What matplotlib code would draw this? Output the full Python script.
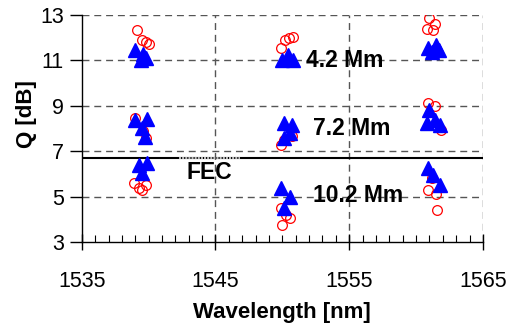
import matplotlib
matplotlib.use("Agg")
import matplotlib.pyplot as plt
from matplotlib.ticker import MultipleLocator

plt.rcParams['font.family'] = ['Liberation Sans', 'DejaVu Sans']

# Q values, grouped by distance
tri_x_42 = [1539.0, 1539.6, 1539.4, 1539.8, 1550.0, 1550.4, 1550.8, 1560.9, 1561.5, 1561.2, 1561.7]
tri_y_42 = [11.46, 11.28, 11.02, 11.1, 11.0, 11.24, 11.0, 11.55, 11.68, 11.37, 11.46]
cir_x_42 = [1539.1, 1539.5, 1539.8, 1540.0, 1549.9, 1550.2, 1550.5, 1550.8, 1561.0, 1560.8, 1561.4, 1561.3]
cir_y_42 = [12.34, 11.9, 11.8, 11.72, 11.55, 11.9, 12.0, 12.03, 12.85, 12.4, 12.6, 12.34]

tri_x_72 = [1539.0, 1539.9, 1539.5, 1539.7, 1550.1, 1550.7, 1550.1, 1550.6, 1561.0, 1560.8, 1561.4, 1561.8]
tri_y_72 = [8.37, 8.4, 8.0, 7.63, 8.24, 8.15, 7.58, 7.8, 8.8, 8.24, 8.37, 8.15]
cir_x_72 = [1539.0, 1539.6, 1539.8, 1549.9, 1550.1, 1550.7, 1560.9, 1561.4, 1561.9]
cir_y_72 = [8.46, 7.9, 7.58, 7.27, 7.5, 7.65, 9.12, 9.0, 7.93]

tri_x_102 = [1539.3, 1539.9, 1539.5, 1549.9, 1550.6, 1550.1, 1560.9, 1561.3, 1561.8]
tri_y_102 = [6.39, 6.48, 6.04, 5.38, 4.98, 4.5, 6.26, 5.95, 5.5]
cir_x_102 = [1538.9, 1539.3, 1539.8, 1539.5, 1550.3, 1550.6, 1550.0, 1549.9, 1560.9, 1561.5, 1561.6, 1561.2]
cir_y_102 = [5.6, 5.38, 5.51, 5.3, 4.19, 4.06, 3.75, 4.5, 5.3, 5.1, 4.4, 5.8]

fec_level = 6.7

fig = plt.figure(figsize=(5.11, 3.24), dpi=100)
ax = fig.add_axes([0.160, 0.253, 0.785, 0.701])

grid_style = dict(color='#555555', linestyle=(0, (5, 3.5)), linewidth=1.0, zorder=1)
for yv in [5, 7, 9, 11, 13]:
    ax.axhline(yv, **grid_style)
for xv in [1545, 1555, 1565]:
    ax.axvline(xv, **grid_style)

ax.axhline(fec_level, color='black', linewidth=1.5, zorder=2)
ax.plot([1542.3, 1546.8], [fec_level, fec_level], color='#bbbbbb', linewidth=1.5,
        linestyle=(0, (1, 0.5)), zorder=3)

for tx, ty, cx, cy in [(tri_x_42, tri_y_42, cir_x_42, cir_y_42),
                       (tri_x_72, tri_y_72, cir_x_72, cir_y_72),
                       (tri_x_102, tri_y_102, cir_x_102, cir_y_102)]:
    ax.plot(cx, cy, 'o', ms=7, mfc='none', mec='red', mew=0.9, ls='none', zorder=4)
    ax.plot(tx, ty, '^', ms=9.5, color='blue', mec='blue', ls='none', zorder=5)

ax.text(1551.8, 11.0, '4.2 Mm', fontsize=16.5, fontweight='bold', va='center', zorder=6)
ax.text(1552.3, 8.0, '7.2 Mm', fontsize=16.5, fontweight='bold', va='center', zorder=6)
ax.text(1552.3, 5.07, '10.2 Mm', fontsize=16.5, fontweight='bold', va='center', zorder=6)
ax.text(1542.8, 6.04, 'FEC', fontsize=16.5, fontweight='bold', va='center', zorder=6)

ax.set_xlim(1535, 1565)
ax.set_ylim(3, 13)
ax.set_xticks([1535, 1545, 1555, 1565])
ax.set_yticks([3, 5, 7, 9, 11, 13])
ax.xaxis.set_minor_locator(MultipleLocator(1))
ax.tick_params(axis='x', which='major', direction='inout', length=12, width=1,
               labelsize=15.5, pad=15)
ax.tick_params(axis='x', which='minor', direction='in', length=5, width=0.8)
ax.tick_params(axis='y', which='major', direction='out', length=9, width=1,
               labelsize=15.5, pad=4)

ax.spines['top'].set_visible(False)
ax.spines['right'].set_visible(False)
ax.spines['left'].set_linewidth(1.0)
ax.spines['bottom'].set_linewidth(1.0)

ax.set_xlabel('Wavelength [nm]', fontsize=16, fontweight='bold', labelpad=7)
ax.set_ylabel('Q [dB]', fontsize=16, fontweight='bold')
ax.yaxis.set_label_coords(-0.112, 0.565)

fig.savefig('out.png', dpi=100)
